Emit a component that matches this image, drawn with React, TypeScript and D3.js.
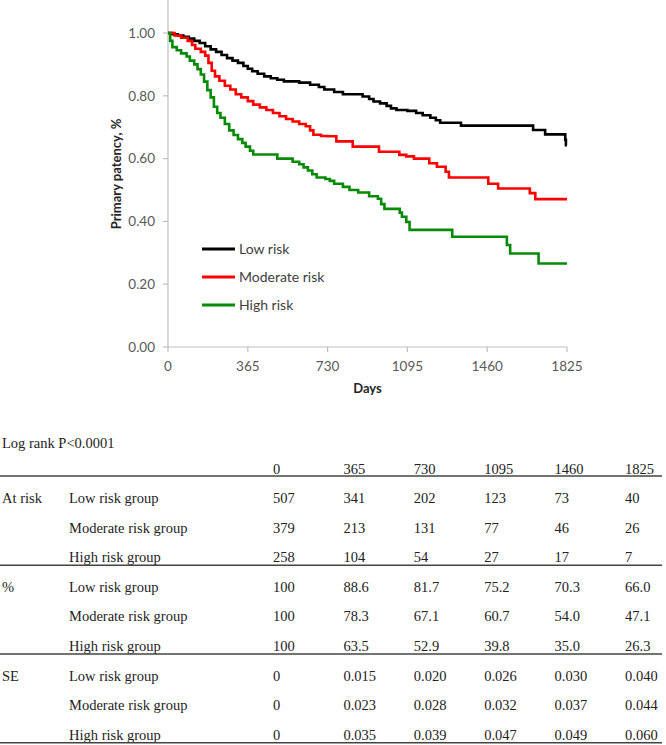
import React from 'react';
import * as d3 from 'd3';

// Kaplan-Meier steps: [day, patency]
const lowRisk: [number, number][] = [
  [0, 1.0], [20, 0.996], [45, 0.992], [70, 0.988], [95, 0.982], [120, 0.975], [145, 0.968],
  [170, 0.958], [195, 0.948], [220, 0.94], [245, 0.93], [270, 0.92], [295, 0.912], [320, 0.905],
  [345, 0.895], [365, 0.886], [385, 0.878], [410, 0.87], [440, 0.862], [470, 0.856], [500, 0.851],
  [530, 0.846], [600, 0.842], [650, 0.835], [690, 0.828], [715, 0.82], [760, 0.812], [800, 0.805],
  [890, 0.798], [920, 0.79], [940, 0.782], [970, 0.776], [1000, 0.768], [1020, 0.76], [1045, 0.755],
  [1095, 0.752], [1135, 0.745], [1165, 0.738], [1200, 0.73], [1225, 0.722], [1245, 0.714],
  [1340, 0.705], [1670, 0.691], [1725, 0.677], [1817, 0.66], [1820, 0.643], [1825, 0.643],
];

const moderateRisk: [number, number][] = [
  [0, 1.0], [30, 0.992], [60, 0.985], [90, 0.975], [110, 0.962], [125, 0.95], [150, 0.94],
  [170, 0.928], [185, 0.905], [200, 0.88], [215, 0.862], [235, 0.848], [260, 0.832], [285, 0.82],
  [310, 0.805], [335, 0.795], [365, 0.783], [390, 0.772], [420, 0.763], [450, 0.755], [480, 0.745],
  [510, 0.735], [540, 0.726], [570, 0.718], [600, 0.71], [630, 0.703], [650, 0.69], [665, 0.676],
  [700, 0.672], [730, 0.671], [770, 0.655], [845, 0.638], [965, 0.622], [1058, 0.612], [1090, 0.607],
  [1125, 0.6], [1195, 0.585], [1230, 0.574], [1270, 0.558], [1285, 0.54], [1465, 0.52],
  [1510, 0.505], [1655, 0.49], [1680, 0.471], [1825, 0.471],
];

const highRisk: [number, number][] = [
  [0, 1.0], [10, 0.975], [20, 0.955], [40, 0.945], [60, 0.935], [85, 0.925], [100, 0.912],
  [120, 0.9], [135, 0.885], [150, 0.868], [165, 0.845], [180, 0.818], [195, 0.795], [210, 0.765],
  [225, 0.745], [240, 0.73], [260, 0.71], [280, 0.69], [300, 0.675], [320, 0.662], [340, 0.65],
  [355, 0.638], [375, 0.625], [390, 0.613], [500, 0.6], [570, 0.59], [600, 0.582], [620, 0.572],
  [640, 0.562], [660, 0.55], [680, 0.54], [720, 0.535], [740, 0.529], [760, 0.52], [800, 0.51],
  [830, 0.5], [870, 0.492], [920, 0.48], [960, 0.472], [975, 0.455], [990, 0.44], [1060, 0.428],
  [1070, 0.415], [1090, 0.398], [1105, 0.373], [1300, 0.351], [1550, 0.325], [1565, 0.298],
  [1695, 0.266], [1825, 0.266],
];

const series = [
  { name: 'Low risk', color: '#000000', data: lowRisk },
  { name: 'Moderate risk', color: '#ff0000', data: moderateRisk },
  { name: 'High risk', color: '#078a07', data: highRisk },
];

const xTicks = [0, 365, 730, 1095, 1460, 1825];
const yTicks = [0, 0.2, 0.4, 0.6, 0.8, 1.0];

// table below the chart
const tableHeader = ['0', '365', '730', '1095', '1460', '1825'];
const groupNames = ['Low risk group', 'Moderate risk group', 'High risk group'];
const atRisk = [
  ['507', '341', '202', '123', '73', '40'],
  ['379', '213', '131', '77', '46', '26'],
  ['258', '104', '54', '27', '17', '7'],
];
const percent = [
  ['100', '88.6', '81.7', '75.2', '70.3', '66.0'],
  ['100', '78.3', '67.1', '60.7', '54.0', '47.1'],
  ['100', '63.5', '52.9', '39.8', '35.0', '26.3'],
];
const stdErr = [
  ['0', '0.015', '0.020', '0.026', '0.030', '0.040'],
  ['0', '0.023', '0.028', '0.032', '0.037', '0.044'],
  ['0', '0.035', '0.039', '0.047', '0.049', '0.060'],
];
const sections = [
  { label: 'At risk', rows: atRisk },
  { label: '%', rows: percent },
  { label: 'SE', rows: stdErr },
];

const W = 666;
const H = 745;

const App = () => {
  const x = d3.scaleLinear().domain([0, 1825]).range([168, 567]);
  const y = d3.scaleLinear().domain([0, 1]).range([347, 33]);

  const line = d3.line<[number, number]>()
    .x(d => x(d[0]))
    .y(d => y(d[1]))
    .curve(d3.curveStepAfter);

  const axisColor = '#bfbfbf';
  const tickColor = '#595959';
  const chartFont = 'Lato, "Open Sans", sans-serif';
  const tableFont = '"Liberation Serif", "Times New Roman", serif';

  // table geometry
  const colX = d3.scaleLinear().domain([0, 5]).range([273, 625]);
  const headerY = 469;
  const rowStep = 29.6;
  const firstRowY = 498;
  const rowY = (i: number) => firstRowY + i * rowStep;

  return (
    <svg width={W} height={H} style={{ position: 'absolute', left: 0, top: 0, background: '#fff' }}>
      <rect width={W} height={H} fill="#fff" />

      {/* y axis */}
      <line x1={x(0)} x2={x(0)} y1={0} y2={y(0)} stroke={axisColor} strokeWidth={1.2} />
      {yTicks.map(t => (
        <g key={`y${t}`}>
          <line x1={x(0) - 5} x2={x(0)} y1={y(t)} y2={y(t)} stroke={axisColor} strokeWidth={1.2} />
          <text x={155} y={y(t)} dy="0.35em" textAnchor="end" fontFamily={chartFont}
            fontSize={13.5} fill={tickColor}>{t.toFixed(2)}</text>
        </g>
      ))}

      {/* x axis */}
      <line x1={x(0)} x2={x(1825)} y1={y(0)} y2={y(0)} stroke={axisColor} strokeWidth={1.2} />
      {xTicks.map(t => (
        <g key={`x${t}`}>
          <line x1={x(t)} x2={x(t)} y1={y(0)} y2={y(0) + 5} stroke={axisColor} strokeWidth={1.2} />
          <text x={x(t)} y={366} dy="0.35em" textAnchor="middle" fontFamily={chartFont}
            fontSize={13.5} fill={tickColor}>{t}</text>
        </g>
      ))}

      <text x={(x(0) + x(1825)) / 2} y={388} dy="0.35em" textAnchor="middle"
        fontFamily={chartFont} fontSize={13} fontWeight="bold" fill="#262626">Days</text>
      <text transform={`translate(116,174) rotate(-90)`} dy="0.35em" textAnchor="middle"
        fontFamily={chartFont} fontSize={13} fontWeight="bold" fill="#262626">Primary patency, %</text>

      {/* curves */}
      {series.map(s => (
        <path key={s.name} d={line(s.data) || ''} fill="none" stroke={s.color}
          strokeWidth={2.6} strokeLinejoin="miter" />
      ))}

      {/* legend */}
      {series.map((s, i) => (
        <g key={`lg${s.name}`} transform={`translate(202,${249 + i * 28})`}>
          <line x1={0} x2={33} y1={0} y2={0} stroke={s.color} strokeWidth={3} />
          <text x={37} y={0} dy="0.35em" fontFamily={chartFont} fontSize={14}
            fill="#404040">{s.name}</text>
        </g>
      ))}

      {/* table */}
      <g fontFamily={tableFont} fontSize={14.5} fill="#222">
        <text x={2} y={443} dy="0.35em">Log rank P&lt;0.0001</text>
        {tableHeader.map((h, j) => (
          <text key={`h${j}`} x={colX(j)} y={headerY} dy="0.35em">{h}</text>
        ))}
        <line x1={0} x2={662} y1={476} y2={476} stroke="#444" strokeWidth={1.5} />
        {sections.map((sec, si) => (
          <g key={sec.label}>
            <text x={2} y={rowY(si * 3)} dy="0.35em">{sec.label}</text>
            {sec.rows.map((vals, ri) => (
              <g key={`${sec.label}${ri}`}>
                <text x={69} y={rowY(si * 3 + ri)} dy="0.35em">{groupNames[ri]}</text>
                {vals.map((v, j) => (
                  <text key={j} x={colX(j)} y={rowY(si * 3 + ri)} dy="0.35em">{v}</text>
                ))}
              </g>
            ))}
            <line x1={0} x2={662} y1={rowY(si * 3 + 2) + 8} y2={rowY(si * 3 + 2) + 8}
              stroke="#444" strokeWidth={1.5} />
          </g>
        ))}
      </g>
    </svg>
  );
};

export default App;
